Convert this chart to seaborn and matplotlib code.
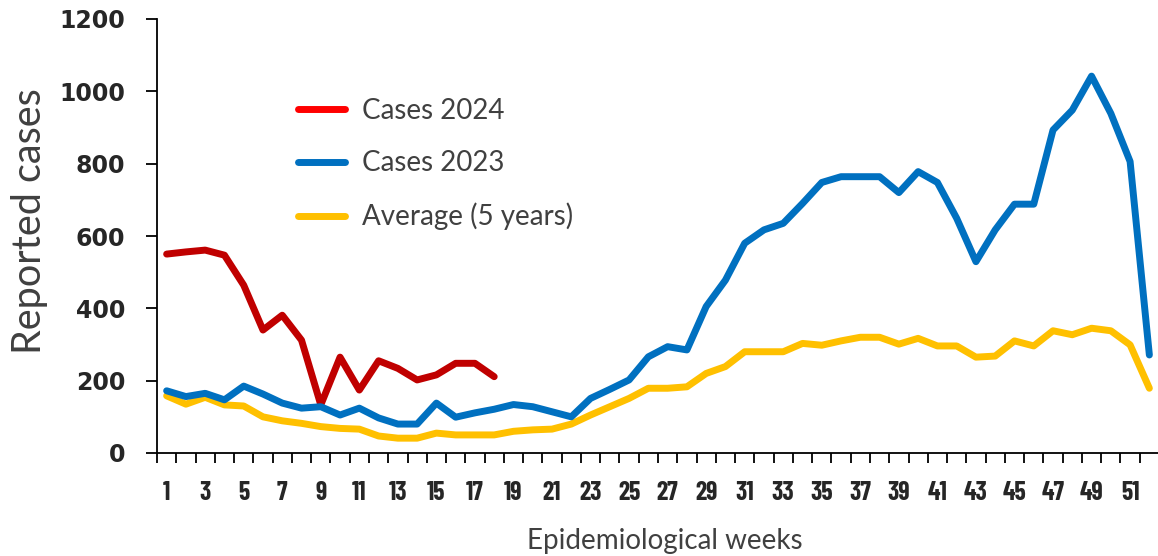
import numpy as np
import pandas as pd
import matplotlib
matplotlib.use("Agg")
import matplotlib.pyplot as plt
from matplotlib.ticker import FixedLocator
import seaborn as sns

# semaines epidemiologiques
weeks = list(range(1, 53))
week_labels = [str(w) if w % 2 == 1 else "" for w in weeks]

cases_2024 = [550, 556, 561, 547, 464, 340, 381, 312, 133, 265,
              174, 255, 234, 202, 216, 248, 248, 211]
cases_2023 = [172, 156, 165, 147, 185, 163, 138, 124, 128, 105,
              124, 97, 80, 80, 138, 99, 111, 121, 134, 128,
              114, 100, 151, 176, 202, 266, 294, 285, 405, 478,
              580, 617, 635, 690, 748, 764, 764, 764, 720, 778,
              748, 649, 529, 617, 688, 688, 893, 948, 1042, 939,
              806, 271]
average_5y = [158, 135, 154, 133, 130, 100, 89, 82, 73, 68,
              66, 47, 41, 41, 55, 50, 50, 50, 60, 64,
              66, 80, 105, 128, 151, 179, 179, 183, 220, 239,
              280, 280, 280, 303, 298, 310, 320, 320, 301, 317,
              296, 296, 265, 268, 310, 296, 338, 327, 345, 338,
              299, 179]

y_ticks = [0, 200, 400, 600, 800, 1000, 1200]

df_2024 = pd.DataFrame({"week": weeks[:len(cases_2024)], "cases": cases_2024})
df_2023 = pd.DataFrame({"week": weeks, "cases": cases_2023})
df_avg = pd.DataFrame({"week": weeks, "cases": average_5y})

sns.set_style("white")
plt.rcParams["font.family"] = ["Lato", "DejaVu Sans"]

fig = plt.figure(figsize=(11.58, 5.56), dpi=100)
ax = fig.add_axes([157 / 1158, 1 - 453 / 556, 1002 / 1158, 434 / 556])

line_kw = dict(linewidth=5, solid_joinstyle="round", solid_capstyle="round")
sns.lineplot(data=df_2024, x="week", y="cases", color="#C00000", ax=ax,
             label="Cases 2024", zorder=2, **line_kw)
sns.lineplot(data=df_avg, x="week", y="cases", color="#FFC000", ax=ax,
             label="Average (5 years)", zorder=2.5, **line_kw)
sns.lineplot(data=df_2023, x="week", y="cases", color="#0070C0", ax=ax,
             label="Cases 2023", zorder=3, **line_kw)

ax.set_xlim(0.5, 52.5)
ax.set_ylim(0, 1200)

# axe y
ax.set_yticks(y_ticks)
ax.set_yticklabels([str(v) for v in y_ticks], family=["DejaVu Sans"],
                   fontweight="bold", fontsize=17)
ax.tick_params(axis="y", which="major", direction="out", length=8, width=1.3,
               color="black", pad=15, left=True)

# axe x : etiquettes au centre, graduations entre les categories
ax.set_xticks(weeks)
ax.set_xticklabels(week_labels, family=["Barlow Condensed", "DejaVu Sans"],
                   fontweight="bold", fontsize=18.5)
ax.xaxis.set_minor_locator(FixedLocator(np.arange(0.5, 53, 1.0)))
ax.tick_params(axis="x", which="major", length=0, pad=20)
ax.tick_params(axis="x", which="minor", direction="out", length=7, width=1.3,
               color="black", bottom=True)

for side in ["top", "right"]:
    ax.spines[side].set_visible(False)
for side in ["left", "bottom"]:
    ax.spines[side].set_color("black")
    ax.spines[side].set_linewidth(1.3)

ax.set_ylabel("Reported cases", fontsize=28.5, color="#404040")
ax.yaxis.set_label_coords(-0.109, 0.535)
ax.set_xlabel("Epidemiological weeks", fontsize=20, color="#404040")
ax.xaxis.set_label_coords(0.507, -0.172)

h, l = ax.get_legend_handles_labels()
order = [l.index("Cases 2024"), l.index("Cases 2023"), l.index("Average (5 years)")]
leg = ax.legend([h[i] for i in order], [l[i] for i in order],
                loc="upper left", bbox_to_anchor=(298 / 1158, 1 - 98 / 556),
                bbox_transform=fig.transFigure, frameon=False, fontsize=20,
                handlelength=1.7, handletextpad=0.6, labelspacing=0.95,
                borderpad=0, borderaxespad=0)
for t in leg.get_texts():
    t.set_color("#404040")
leg.get_lines()[0].set_color("#FF0000")

fig.savefig("out.png", dpi=100)
